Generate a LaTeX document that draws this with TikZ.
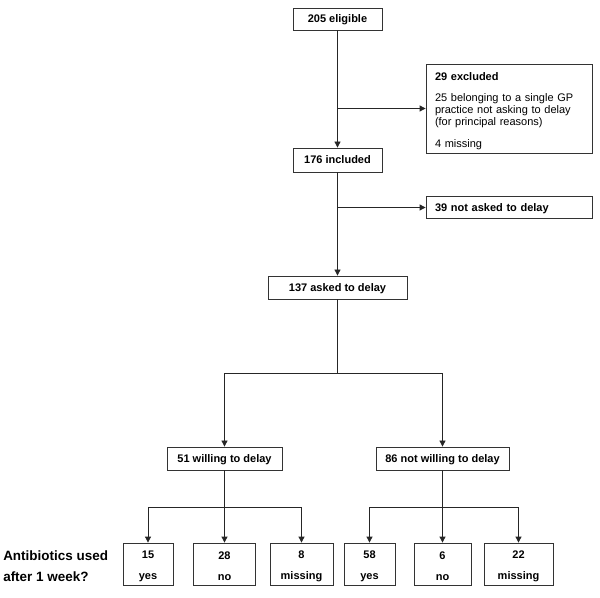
\documentclass[tikz,border=0pt]{standalone}
\usepackage{fontspec}
\setmainfont{Liberation Sans}
\usetikzlibrary{arrows.meta}

\begin{document}
\begin{tikzpicture}[
  x=0.75pt, y=-0.75pt,
  outline/.style={rectangle, draw=black!80, line width=0.6pt, inner sep=0pt, text centered, minimum height=17.25pt, font=\fontsize{8.25pt}{9pt}\selectfont\bfseries},
  block/.style={outline, text height=5.9pt, text depth=0pt},
  sidebox/.style={outline, text width=111pt, inner xsep=6.75pt, align=left, minimum height=16.5pt},
  result/.style={outline, minimum height=31.5pt, align=center},
  line/.style={draw=black!85, line width=0.6pt, -{Triangle[length=4.5pt,width=4.5pt]}},
  trunk/.style={draw=black!85, line width=0.6pt}
]
\useasboundingbox (0,0) rectangle (600,598);

\node [block, minimum width=66.75pt, minimum height=16.5pt] (eligible) at (337.5,19) {205 eligible};
\node [block, minimum width=66.75pt, minimum height=18pt] (included) at (337.5,160) {176 included};
\node [sidebox, minimum height=66.75pt, font=\fontsize{8.25pt}{9pt}\selectfont] (excluded) at (509,108.5) {\rule{0pt}{10.5pt}\textbf{29 excluded}\\[6.75pt]25 belonging to a single GP practice not asking to delay (for principal reasons)\\[7.5pt]4 missing};
\node [sidebox, text height=5.9pt, text depth=0pt] (notasked) at (509,207.5) {39 not asked to delay};
\node [block, minimum width=104.25pt] (asked) at (337.5,287.5) {137 asked to delay};
\node [block, minimum width=86.25pt] (willing) at (224.5,458.5) {51 willing to delay};
\node [block, minimum width=99.75pt] (notwilling) at (442.5,458.5) {86 not willing to delay};

\node [result, minimum width=37.5pt] (yesA) at (148,564) {\rule{0pt}{8.7pt}15\\[6.75pt]yes};
\node [result, minimum width=46.5pt] (noA) at (224.5,564) {\rule{0pt}{8.7pt}28\\[6.75pt]no};
\node [result, minimum width=47.25pt] (missA) at (301.5,564) {\rule{0pt}{8.7pt}8\\[6.75pt]missing};
\node [result, minimum width=38.25pt] (yesB) at (369.5,564) {\rule{0pt}{8.7pt}58\\[6.75pt]yes};
\node [result, minimum width=42.75pt] (noB) at (442.5,564) {\rule{0pt}{8.7pt}6\\[6.75pt]no};
\node [result, minimum width=51.75pt] (missB) at (518.5,564) {\rule{0pt}{8.7pt}22\\[6.75pt]missing};
\node [anchor=west, inner sep=0pt, align=left, font=\fontsize{10.1pt}{15.5pt}\selectfont\bfseries] (question) at (3,566) {Antibiotics used\\after 1 week?};

\coordinate (exclbranch) at (eligible.south |- excluded.west);
\coordinate (askbranch) at (included.south |- notasked.west);
\coordinate (split) at (337.5,373);
\coordinate (splitA) at (224.5,507);
\coordinate (splitB) at (442.5,507);

\path [line] (eligible) -- (included);
\path [line] (exclbranch) -- (excluded.west);
\path [line] (included) -- (asked);
\path [line] (askbranch) -- (notasked.west);
\path [trunk] (asked) -- (split);
\path [line] (split) -| (willing);
\path [line] (split) -| (notwilling);
\path [trunk] (willing) -- (splitA);
\path [line] (splitA) -| (yesA);
\path [line] (splitA) -- (noA);
\path [line] (splitA) -| (missA);
\path [trunk] (notwilling) -- (splitB);
\path [line] (splitB) -| (yesB);
\path [line] (splitB) -- (noB);
\path [line] (splitB) -| (missB);
\end{tikzpicture}
\end{document}
